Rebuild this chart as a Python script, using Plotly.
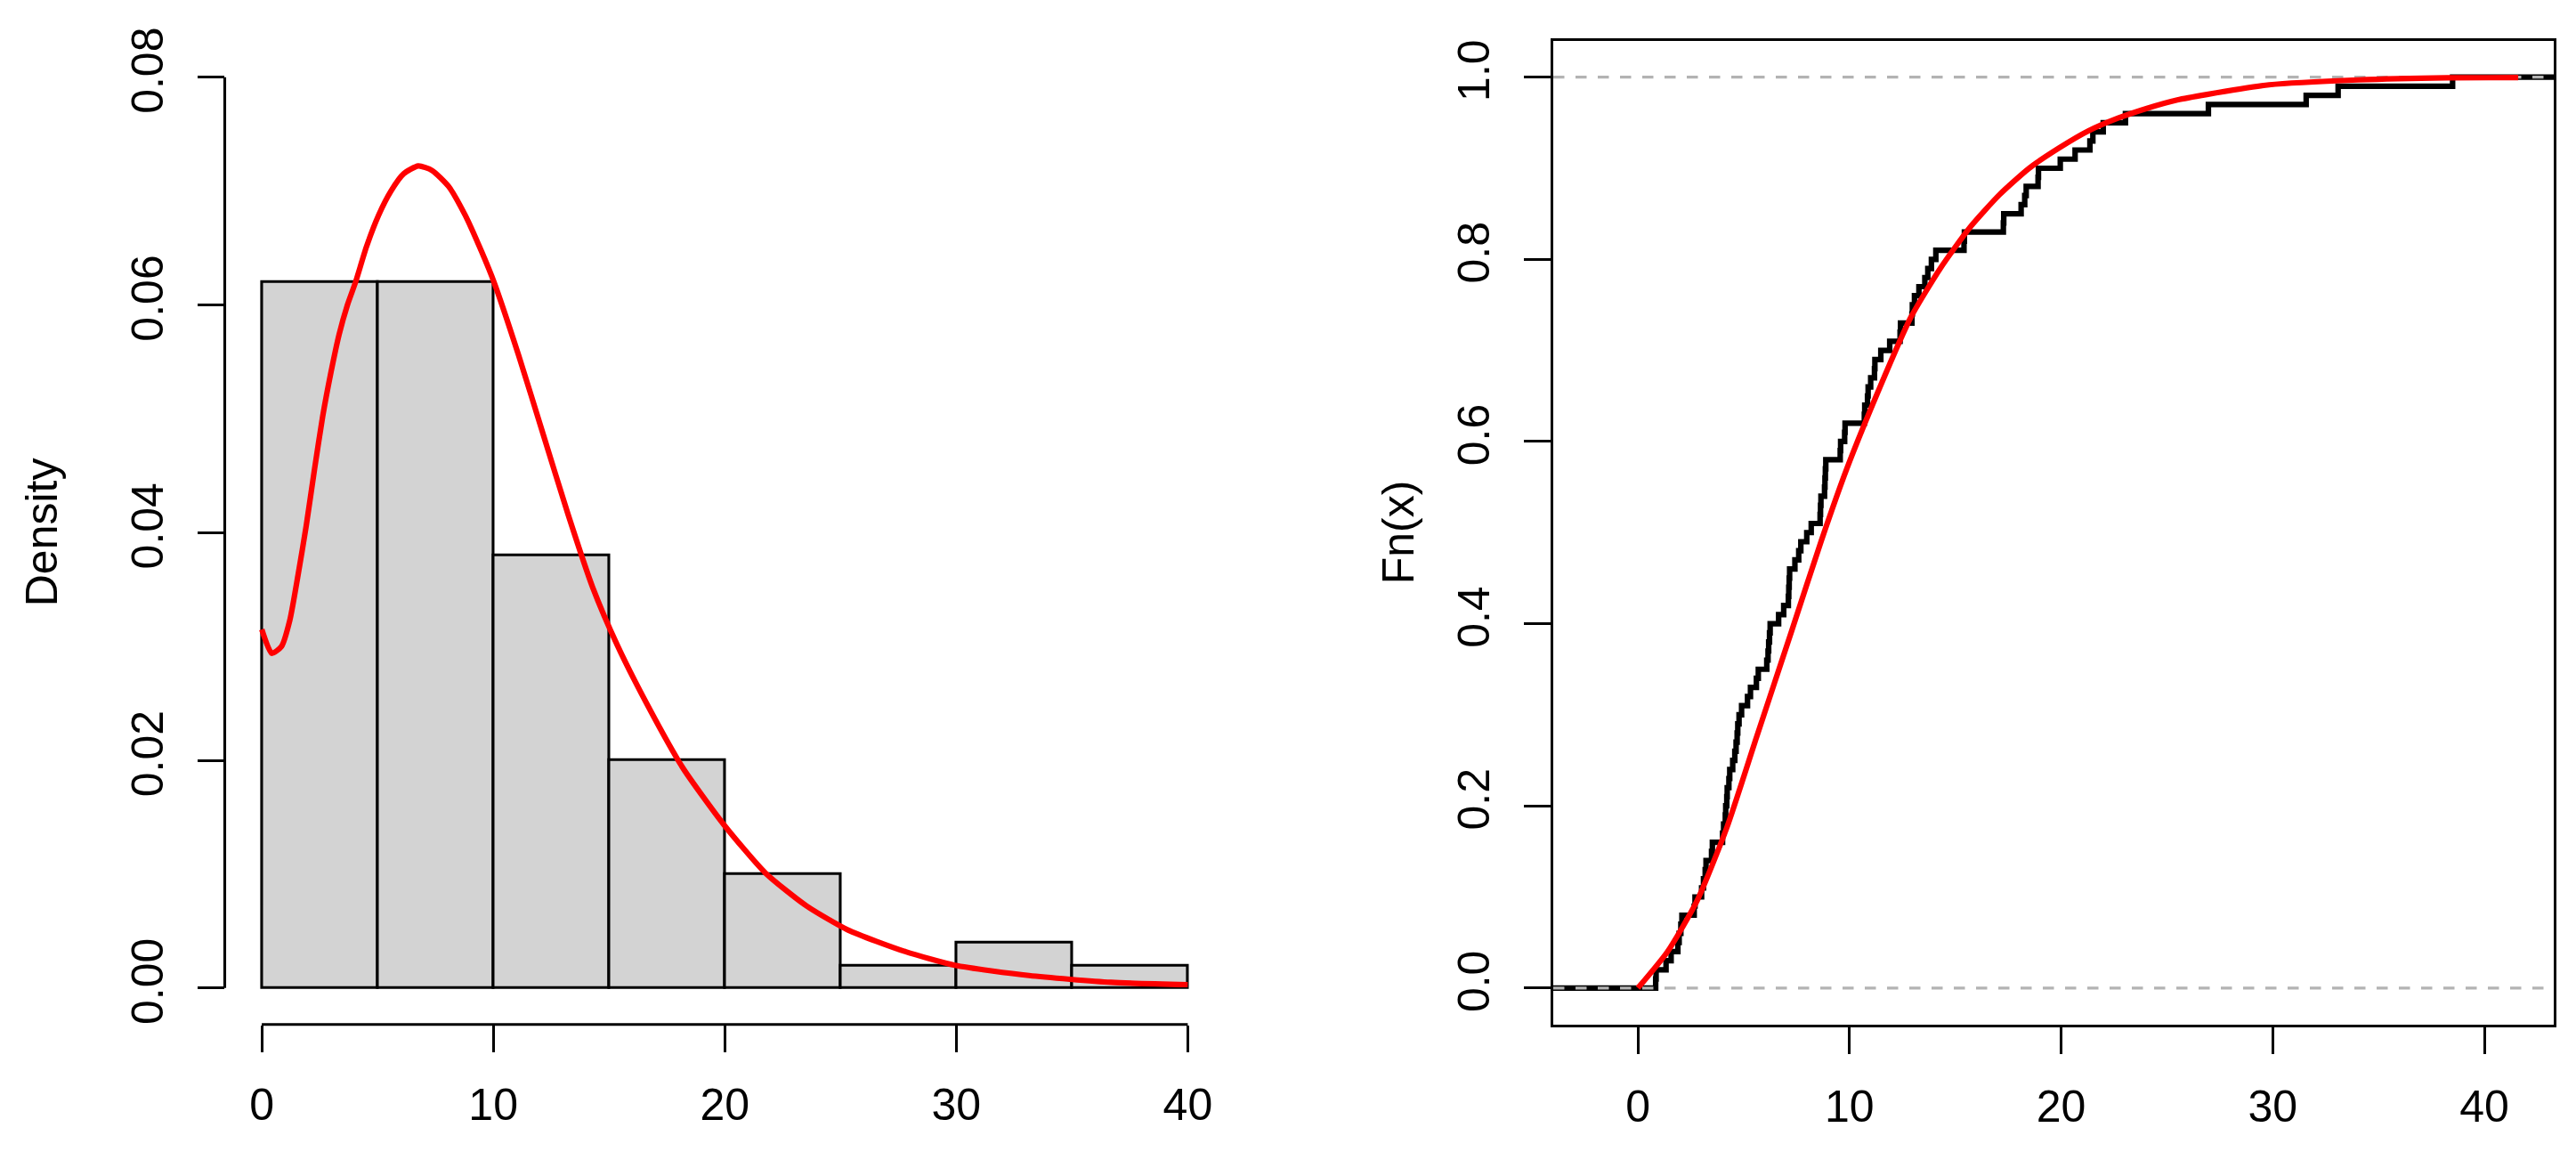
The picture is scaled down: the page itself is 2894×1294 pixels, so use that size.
import plotly.graph_objects as go

# histogram on the density scale (bins of width 5)
bin_left = [0, 5, 10, 15, 20, 25, 30, 35]
bin_width = 5
density = [0.062, 0.062, 0.038, 0.020, 0.010, 0.002, 0.004, 0.002]

# fitted density curve (red)
dens_x = [0, 0.43, 0.85, 1.21, 1.56, 1.92, 2.28, 2.63, 2.99, 3.34, 3.70, 4.05,
          4.52, 5.05, 5.58, 6.12, 6.76, 7.36, 8.07, 8.78, 9.49, 10.03, 11.09,
          12.16, 13.23, 14.29, 15.36, 16.78, 18.20, 19.98, 21.76, 23.54, 25.32,
          27.80, 29.94, 33.14, 36.69, 40.0]
dens_y = [0.0315, 0.0294, 0.0300, 0.0323, 0.0362, 0.0406, 0.0456, 0.0502,
          0.0541, 0.0574, 0.0600, 0.0620, 0.0651, 0.0679, 0.0700, 0.0715,
          0.0722, 0.0718, 0.0704, 0.0679, 0.0647, 0.0620, 0.0556, 0.0486,
          0.0416, 0.0352, 0.0301, 0.0244, 0.0193, 0.0143, 0.0101, 0.0072,
          0.0051, 0.0032, 0.0020, 0.0011, 0.0005, 0.0003]

# sorted sample behind the empirical cdf (n = 100)
sample = [0.84, 0.86, 1.33, 1.57, 1.89, 1.95, 2.03, 2.08, 2.66, 2.70,
          3.01, 3.10, 3.18, 3.22, 3.48, 3.52, 4.00, 4.05, 4.13, 4.15,
          4.20, 4.22, 4.30, 4.34, 4.48, 4.58, 4.64, 4.69, 4.72, 4.78,
          4.90, 5.18, 5.32, 5.60, 5.69, 6.09, 6.15, 6.18, 6.22, 6.25,
          6.65, 6.89, 7.11, 7.13, 7.15, 7.17, 7.42, 7.60, 7.70, 7.98,
          8.19, 8.61, 8.63, 8.65, 8.82, 8.84, 8.86, 8.88, 9.56, 9.58,
          9.77, 9.79, 10.70, 10.72, 10.85, 10.88, 11.00, 11.18, 11.20, 11.48,
          11.90, 12.39, 12.41, 12.95, 12.97, 13.07, 13.28, 13.56, 13.70, 13.87,
          14.08, 15.41, 15.43, 17.27, 17.29, 18.11, 18.28, 18.35, 18.91, 18.93,
          19.96, 20.66, 21.36, 21.50, 21.99, 23.04, 26.96, 31.58, 33.09, 38.50]

# fitted cdf (red)
cdf_x = [0, 1.40, 2.80, 4.20, 5.60, 7.28, 8.68, 9.87, 11.48, 12.89, 14.29,
         15.69, 17.09, 18.49, 19.89, 21.29, 22.69, 24.09, 25.49, 26.89, 29.83,
         34.03, 38.24, 41.6]
cdf_y = [0, 0.040, 0.096, 0.176, 0.275, 0.393, 0.492, 0.570, 0.662, 0.736,
         0.790, 0.835, 0.871, 0.900, 0.922, 0.941, 0.955, 0.966, 0.975, 0.981,
         0.9916, 0.997, 0.9993, 0.9995]

x_ticks = [0, 10, 20, 30, 40]
dens_ticks = [0, 0.02, 0.04, 0.06, 0.08]
fn_ticks = [0, 0.2, 0.4, 0.6, 0.8, 1.0]

FONT = "Liberation Sans, Arial, Helvetica, sans-serif"
LW = 3.1
W, H = 2894, 1294
PAGE_PAD = 8  # default body margin of the html page


def px_x(p):
    return (p - PAGE_PAD) / W


def px_y(p):
    return 1 - (p - PAGE_PAD) / H


left_xrange = [-1.6, 41.6]
left_yrange = [-0.0032, 0.0832]
right_xrange = [-4.0, 43.28]
right_yrange = [-0.04, 1.04]

n = len(sample)
ecdf_x = [right_xrange[0]] + sample + [right_xrange[1]]
ecdf_y = [0] + [(i + 1) / n for i in range(n)] + [1]

fig = go.Figure()

fig.add_trace(
    go.Bar(
        x=[b + bin_width / 2 for b in bin_left],
        y=density,
        width=bin_width,
        marker=dict(color="#D3D3D3", line=dict(color="black", width=LW)),
        xaxis="x",
        yaxis="y",
        showlegend=False,
    )
)
fig.add_trace(
    go.Scatter(
        x=dens_x, y=dens_y, mode="lines",
        line=dict(color="#FF0000", width=6.2, shape="spline", smoothing=0.6),
        xaxis="x", yaxis="y", showlegend=False,
    )
)

# empirical cdf, then the 0/1 reference lines, then the fitted cdf
fig.add_trace(
    go.Scatter(
        x=ecdf_x, y=ecdf_y, mode="lines",
        line=dict(color="black", width=6.2, shape="hv"),
        xaxis="x2", yaxis="y2", showlegend=False,
    )
)
for level in [0, 1]:
    fig.add_trace(
        go.Scatter(
            x=right_xrange, y=[level, level], mode="lines",
            line=dict(color="#B3B3B3", width=LW, dash="12.5px,12.5px"),
            xaxis="x2", yaxis="y2", showlegend=False,
        )
    )
fig.add_trace(
    go.Scatter(
        x=cdf_x, y=cdf_y, mode="lines",
        line=dict(color="#FF0000", width=6.2, shape="spline", smoothing=0.6),
        xaxis="x2", yaxis="y2", showlegend=False,
    )
)

tick_style = dict(
    ticks="outside", ticklen=30, tickwidth=LW, tickcolor="black",
    showgrid=False, zeroline=False,
    tickfont=dict(family=FONT, size=50, color="black"),
)

y_dom = [px_y(1149), px_y(31)]
fig.update_layout(
    width=W,
    height=H,
    margin=dict(l=0, r=0, t=0, b=0),
    paper_bgcolor="white",
    plot_bgcolor="white",
    font=dict(family=FONT, size=50, color="black"),
    bargap=0,
    xaxis=dict(domain=[px_x(252.5), px_x(1376)], range=left_xrange, tickvals=x_ticks,
               showline=False, ticklabelstandoff=16, **tick_style),
    yaxis=dict(domain=y_dom, range=left_yrange, tickvals=dens_ticks,
               tickformat=".2f", tickangle=-90, showline=False,
               ticklabelstandoff=19, **tick_style),
    xaxis2=dict(domain=[px_x(1745), px_x(2869)], range=right_xrange, tickvals=x_ticks,
                anchor="y2", showline=True, mirror=True, linecolor="black",
                linewidth=LW, ticklabelstandoff=16, **tick_style),
    yaxis2=dict(domain=y_dom, range=right_yrange, tickvals=fn_ticks,
                tickformat=".1f", tickangle=-90, anchor="x2", showline=True,
                mirror=True, linecolor="black", linewidth=LW,
                ticklabelstandoff=19, **tick_style),
)

# R style axis lines for the histogram: only over the tick range
fig.add_shape(type="line", xref="x", yref="y domain", x0=x_ticks[0], x1=x_ticks[-1],
              y0=0, y1=0, line=dict(color="black", width=LW))
fig.add_shape(type="line", xref="x domain", yref="y", x0=0, x1=0,
              y0=dens_ticks[0], y1=dens_ticks[-1], line=dict(color="black", width=LW))

fig.add_annotation(text="Density", xref="paper", yref="paper", x=px_x(47), y=px_y(590),
                   textangle=-90, showarrow=False, xanchor="center", yanchor="middle",
                   font=dict(family=FONT, size=50, color="black"))
fig.add_annotation(text="Fn(x)", xref="paper", yref="paper", x=px_x(1571), y=px_y(590),
                   textangle=-90, showarrow=False, xanchor="center", yanchor="middle",
                   font=dict(family=FONT, size=50, color="black"))

fig.write_html("out.html")
